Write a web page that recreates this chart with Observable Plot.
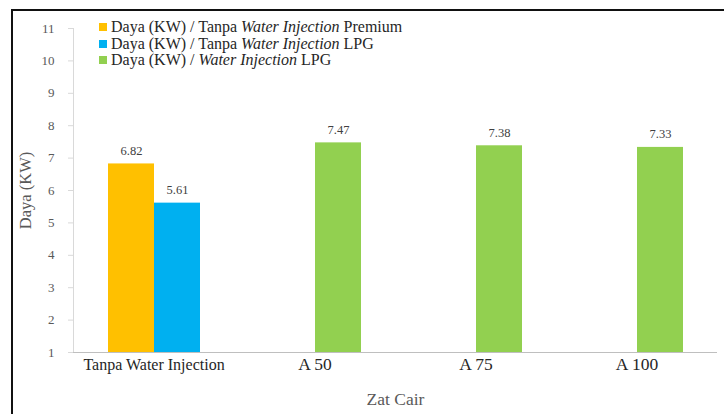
<!DOCTYPE html>
<html>
<head>
<meta charset="utf-8">
<script src="https://cdn.jsdelivr.net/npm/d3@7"></script>
<script src="https://cdn.jsdelivr.net/npm/@observablehq/plot@0.6"></script>
<style>
  html, body { margin: 0; padding: 0; background: #fff; }
  #wrap { position: relative; width: 724px; height: 414px; overflow: hidden; }
  #border { position: absolute; left: 11px; top: 9px; width: 740px; height: 420px;
            border-top: 2px solid #111; border-left: 2px solid #111; pointer-events: none; }
  #legend { position: absolute; left: 99px; top: 19px; font-family: 'Liberation Serif', serif;
            font-size: 16px; line-height: 16.5px; color: #262626; }
  #legend .row { display: flex; align-items: center; white-space: nowrap; height: 16.5px; }
  #legend .sw { width: 8px; height: 8px; margin-right: 4px; }
</style>
</head>
<body>
<div id="wrap">
  <div id="chart"></div>
  <div id="legend"></div>
  <div id="border"></div>
</div>
<script>
// ---- data ----
const categories = ["Tanpa Water Injection", "A 50", "A 75", "A 100"];
const seriesNames = [
  "Daya (KW) / Tanpa Water Injection Premium",
  "Daya (KW) / Tanpa Water Injection LPG",
  "Daya (KW) / Water Injection LPG"
];
const seriesColors = ["#FFC000", "#00B0F0", "#92D050"];
const premiumNoWI = [6.82, null, null, null];
const lpgNoWI = [5.61, null, null, null];
const lpgWI = [null, 7.47, 7.38, 7.33];
const seriesSlot = ["s1", "s2", "s2"];   // cluster position of each series
const slots = ["s1", "s2"];
const yTicks = [1, 2, 3, 4, 5, 6, 7, 8, 9, 10, 11];
const legendHtml = [
  "Daya (KW) / Tanpa <i>Water Injection</i> Premium",
  "Daya (KW) / Tanpa <i>Water Injection</i> LPG",
  "Daya (KW) / <i>Water Injection</i> LPG"
];

const seriesValues = [premiumNoWI, lpgNoWI, lpgWI];
const rows = [];
seriesValues.forEach((vals, si) => {
  vals.forEach((v, ci) => {
    if (v != null) rows.push({cat: categories[ci], series: seriesNames[si], slot: seriesSlot[si], value: v});
  });
});
const catSize = d => d === categories[0] ? 16 : 17.5;

const chart = Plot.plot({
  width: 724,
  height: 414,
  marginLeft: 72,
  marginRight: 7,
  marginTop: 28,
  marginBottom: 62,
  style: {fontFamily: "'Liberation Serif', serif", background: "transparent"},
  fx: {domain: categories, paddingInner: 0, paddingOuter: 0, axis: null},
  x: {domain: slots, paddingInner: 0, paddingOuter: 0.75, axis: null},
  y: {domain: [1, 11], axis: null},
  color: {domain: seriesNames, range: seriesColors},
  marks: [
    Plot.frame({anchor: "left", stroke: "#d9d9d9", facet: "super"}),
    Plot.axisY({ticks: yTicks, tickSize: 5, stroke: "#d9d9d9", fill: "#595959", fontSize: 13,
                tickPadding: 14, label: null}),
    Plot.axisY({ticks: [], label: "Daya (KW)", labelAnchor: "center", labelArrow: "none",
                labelOffset: 54, fontSize: 16.5, fill: "#595959"}),
    Plot.axisFx({anchor: "bottom", tickSize: 0, tickFormat: () => "", label: "Zat Cair", labelAnchor: "center",
                 labelArrow: "none", labelOffset: 52, fontSize: 17.5, fill: "#595959"}),
    Plot.ruleY([1], {stroke: "#bfbfbf"}),
    Plot.barY(rows, {fx: "cat", x: "slot", y1: 1, y2: "value", fill: "series"}),
    Plot.text(rows, {fx: "cat", x: "slot", y: "value", text: d => d.value.toFixed(2),
                     dy: -13, fontSize: 12.5, fill: "#404040"}),
    Plot.text(categories, {fx: d => d, frameAnchor: "bottom", lineAnchor: "middle", dy: 12,
                           text: d => d, fontSize: catSize, fill: "#262626"})
  ]
});
document.getElementById("chart").appendChild(chart);

const legend = document.getElementById("legend");
legendHtml.forEach((h, i) => {
  const row = document.createElement("div");
  row.className = "row";
  row.innerHTML = `<span class="sw" style="background:${seriesColors[i]}"></span><span>${h}</span>`;
  legend.appendChild(row);
});
</script>
</body>
</html>
